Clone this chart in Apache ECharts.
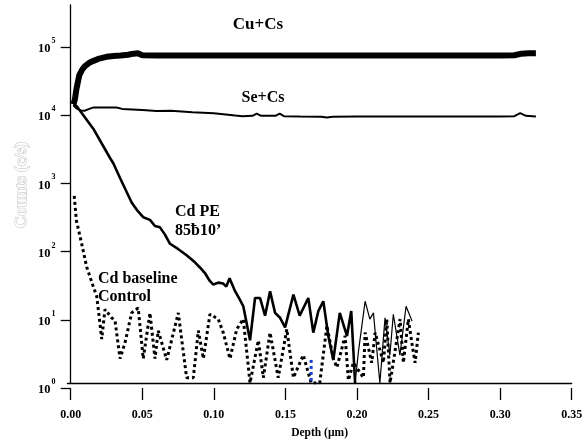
<!DOCTYPE html>
<html>
<head>
<meta charset="utf-8">
<script src="https://cdn.jsdelivr.net/npm/echarts@6/dist/echarts.min.js"></script>
<style>
  html, body { margin: 0; padding: 0; background: #fff; }
  #chart { width: 588px; height: 444px; }
</style>
</head>
<body>
<div id="chart"></div>
<script>
// ---- data (depth in µm, counts in c/s) ----
const xTicks = [0, 0.05, 0.10, 0.15, 0.20, 0.25, 0.30, 0.35];
const yTicks = [1, 10, 100, 1000, 10000, 100000];

const cuX = [0.002,0.003,0.004,0.006,0.008,0.010,0.013,0.016,0.020,0.025,0.030,0.035,0.040,0.044,0.047,0.050,0.060,0.080,0.100,0.120,0.140,0.160,0.180,0.200,0.220,0.240,0.260,0.280,0.300,0.310,0.315,0.320,0.325];
const cuY = [13800,16500,23000,37000,45000,51000,57000,61000,66000,70000,72000,73000,75000,78000,79000,74000,73000,73000,73000,73000,73000,73000,73000,73000,73000,73000,73000,73000,73000,74000,78000,79000,79000];

const seX = [0.002,0.004,0.007,0.010,0.013,0.016,0.032,0.036,0.050,0.060,0.070,0.085,0.100,0.115,0.120,0.127,0.130,0.133,0.143,0.146,0.149,0.160,0.175,0.179,0.183,0.200,0.220,0.240,0.260,0.280,0.300,0.310,0.314,0.318,0.325];
const seY = [13200,12000,11200,11100,11800,12400,12400,11800,11400,11000,11100,10500,10200,9400,9200,9300,10000,9300,9300,10000,9200,9100,9000,8800,9000,9100,9100,9100,9100,9100,9100,9200,10200,9300,9100];

const cdPeX = [0.0018,0.004,0.0158,0.0275,0.0298,0.0345,0.0426,0.0463,0.0507,0.0554,0.0589,0.0624,0.0659,0.0694,0.0750,0.0810,0.0868,0.0903,0.0938,0.0971,0.0997,0.1031,0.1066,0.1087,0.1110,0.1145,0.1180,0.1206,0.1253,0.1288,0.1323,0.1358,0.1393,0.1428,0.1463,0.1498,0.1556,0.1600,0.1660,0.1695,0.1730,0.1765,0.1800,0.1835,0.1880,0.1930,0.1960,0.1987];
const cdPeY = [13800,13100,6000,2200,1840,1110,480,370,290,265,215,205,160,117,98,79,62,52,43,33,29,31,30,27,36,24,17.6,13.8,4.3,18.3,18.3,10,23,11,9.3,6.7,20.5,10,18.3,5.6,11.7,16.4,5.0,2.2,11,5.0,11.7,1];

const cdPeTailX = [0.1987,0.2010,0.2057,0.2090,0.2115,0.2160,0.2196,0.2230,0.2254,0.2300,0.2343,0.2385];
const cdPeTailY = [1,2.9,16.4,8.9,11,1,9.3,2.6,10.5,2.6,13.8,8.3];

const baseX = [0.0025,0.004,0.0077,0.0112,0.0158,0.0182,0.0193,0.0217,0.024,0.0287,0.031,0.0345,0.038,0.0426,0.0472,0.0507,0.0554,0.0589,0.0612,0.0671,0.0752,0.081,0.0857,0.0892,0.0927,0.0973,0.1031,0.1066,0.1113,0.116,0.1206,0.1253,0.1311,0.1346,0.1393,0.145,0.151,0.1556,0.1625,0.168,0.174,0.179,0.1835,0.186,0.1917,0.194,0.1975,0.2045,0.2057,0.2103,0.2127,0.2185,0.2208,0.2231,0.2301,0.2324,0.2359,0.2383,0.2406,0.2429];
const baseY = [600,260,117,53,27,19.5,12.5,4.5,12.4,9.3,8.4,2.3,4.0,11,13,2.3,11,2.3,6.0,2.2,11,1.2,1.2,6.0,2.3,10.5,8.9,5.6,2.3,6.3,8.9,1.0,4.3,1.2,5.6,1.2,6.3,1.2,2.6,1.0,1.0,7.1,2.3,1.7,5.0,1.1,2.0,1.2,5.6,2.0,5.6,2.0,8.9,1.0,8.9,2.0,8.9,4.0,2.0,5.6];

const blueX = [0.168, 0.168];
const blueY = [2.2, 1.0];

const zip = (xs, ys) => xs.map((x, i) => [x, ys[i]]);

const SERIF = '"Liberation Serif", "Times New Roman", serif';
const chart = echarts.init(document.getElementById('chart'), null, { renderer: 'canvas' });

const option = {
  backgroundColor: '#fff',
  animation: false,
  grid: [
    { left: 67.5, right: 16.3, top: 5, bottom: 56 },
    { left: 70.7, right: 16.3, top: 47, bottom: 56 }
  ],
  xAxis: [
    {
      gridIndex: 0, type: 'value', min: -0.0022, max: 0.35,
      axisLine: { show: true, lineStyle: { color: '#000', width: 1.3 } },
      axisTick: { show: false }, axisLabel: { show: false }, splitLine: { show: false },
      name: 'Depth (\u00b5m)', nameLocation: 'middle', nameGap: 44,
      nameTextStyle: { fontFamily: SERIF, fontWeight: 'bold', fontSize: 11.5, color: '#000' }
    },
    {
      gridIndex: 1, type: 'value', min: 0, max: 0.35, interval: 0.05,
      axisLine: { show: false },
      axisTick: { show: true, inside: false, length: 12, lineStyle: { color: '#000', width: 1.3 } },
      axisLabel: { show: true, margin: 21, fontFamily: SERIF, fontWeight: 'bold', fontSize: 12, color: '#000',
        formatter: v => v.toFixed(2), showMaxLabel: true, showMinLabel: true },
      splitLine: { show: false }
    }
  ],
  yAxis: [
    {
      gridIndex: 0, type: 'log', logBase: 10, min: 1, max: 412000,
      axisLine: { show: true, lineStyle: { color: '#000', width: 1.3 } },
      axisTick: { show: false }, axisLabel: { show: false }, splitLine: { show: false }
    },
    {
      gridIndex: 1, type: 'log', logBase: 10, min: 1, max: 100000, offset: 3.2,
      axisLine: { show: false },
      axisTick: { show: true, inside: false, length: 10, lineStyle: { color: '#000', width: 1.3 } },
      axisLabel: {
        show: true, margin: 12,
        formatter: v => '{s|' + Math.round(Math.log10(v)) + '}\n{b|10}{sp|}',
        rich: {
          s: { fontFamily: SERIF, fontWeight: 'bold', fontSize: 8, lineHeight: 8, color: '#000', align: 'right' },
          b: { fontFamily: SERIF, fontWeight: 'bold', fontSize: 12.5, lineHeight: 12, color: '#000', padding: [0, 0, 4, 0] },
          sp: { width: 5 }
        }
      },
      splitLine: { show: false }
    }
  ],
  graphic: [
    { type: 'text', x: 258, y: 25, style: { text: 'Cu+Cs', font: 'bold 17px ' + SERIF, fill: '#000', align: 'center', verticalAlign: 'middle' } },
    { type: 'text', x: 263, y: 98, style: { text: 'Se+Cs', font: 'bold 16px ' + SERIF, fill: '#000', align: 'center', verticalAlign: 'middle' } },
    { type: 'text', x: 175, y: 212, style: { text: 'Cd PE', font: 'bold 16px ' + SERIF, fill: '#000', align: 'left', verticalAlign: 'middle' } },
    { type: 'text', x: 175, y: 231, style: { text: '85\u018010\u2019', font: 'bold 16px ' + SERIF, fill: '#000', align: 'left', verticalAlign: 'middle' } },
    { type: 'text', x: 98, y: 279, style: { text: 'Cd baseline', font: 'bold 16px ' + SERIF, fill: '#000', align: 'left', verticalAlign: 'middle' } },
    { type: 'text', x: 98, y: 297, style: { text: 'Control', font: 'bold 16px ' + SERIF, fill: '#000', align: 'left', verticalAlign: 'middle' } },
    { type: 'text', x: 22, y: 185, rotation: Math.PI / 2,
      style: { text: 'Counts (c/s)', font: 'bold 17px ' + SERIF, fill: '#fff', stroke: '#bdbdbd', lineWidth: 1, align: 'center', verticalAlign: 'middle' } }
  ],
  series: [
    { name: 'Cd baseline', type: 'line', xAxisIndex: 0, yAxisIndex: 0, data: zip(baseX, baseY), showSymbol: false, symbol: 'none',
      lineStyle: { color: '#000', width: 3, type: [3, 3], cap: 'butt' } },
    { name: 'blue', type: 'line', xAxisIndex: 0, yAxisIndex: 0, data: zip(blueX, blueY), symbol: 'none',
      lineStyle: { color: '#1a3fd6', width: 3, type: [3, 3], cap: 'butt' } },
    { name: 'Cd PE', type: 'line', xAxisIndex: 0, yAxisIndex: 0, data: zip(cdPeX, cdPeY), symbol: 'none',
      lineStyle: { color: '#000', width: 2.6 } },
    { name: 'Cd PE tail', type: 'line', xAxisIndex: 0, yAxisIndex: 0, data: zip(cdPeTailX, cdPeTailY), symbol: 'none',
      lineStyle: { color: '#000', width: 1.2 } },
    { name: 'Se+Cs', type: 'line', xAxisIndex: 0, yAxisIndex: 0, data: zip(seX, seY), symbol: 'none',
      lineStyle: { color: '#000', width: 2 } },
    { name: 'Cu+Cs', type: 'line', xAxisIndex: 0, yAxisIndex: 0, data: zip(cuX, cuY), symbol: 'none',
      lineStyle: { color: '#000', width: 6 } }
  ]
};
chart.setOption(option);
</script>
</body>
</html>
